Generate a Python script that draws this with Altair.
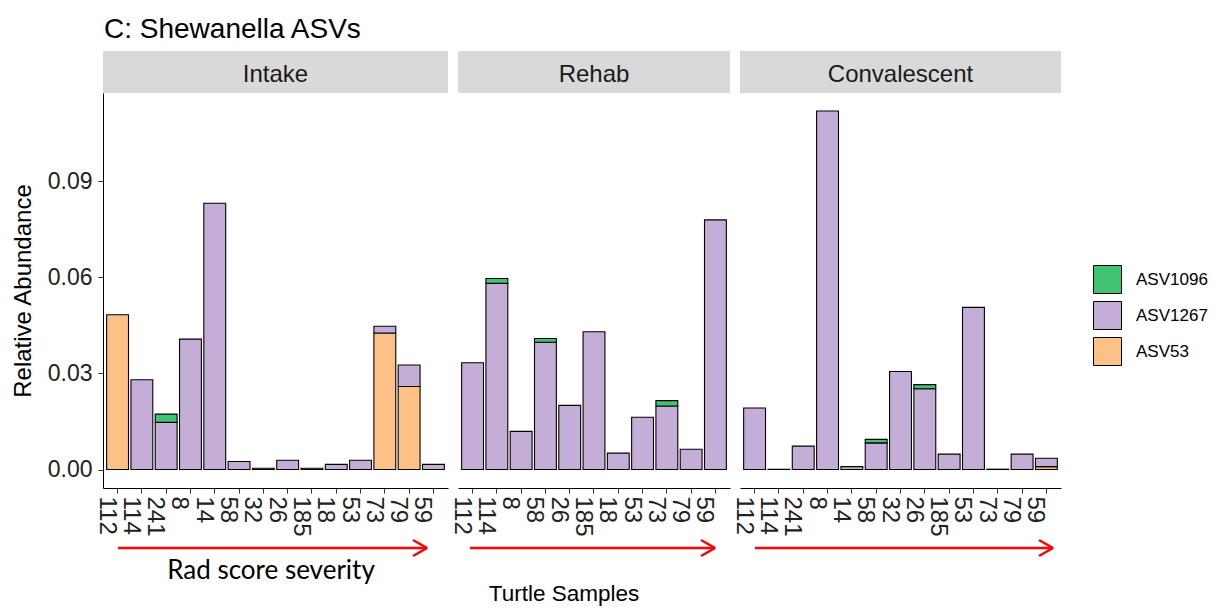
import altair as alt
import pandas as pd

# ---------------- data ----------------
asv_names = ["ASV1096", "ASV1267", "ASV53"]
asv_colors = ["#40C472", "#C4ADD6", "#FDC086"]

intake_samples = ["112", "114", "241", "8", "14", "58", "32", "26", "185", "18", "53", "73", "79", "59"]
intake_asv1096 = [0, 0, 0.0026, 0, 0, 0, 0, 0, 0, 0, 0, 0, 0, 0]
intake_asv1267 = [0, 0.0280, 0.0147, 0.0407, 0.0831, 0.0025, 0.0004, 0.0029, 0.0004, 0.0016, 0.0029, 0.0021, 0.0067, 0.0016]
intake_asv53 = [0.0483, 0, 0, 0, 0, 0, 0, 0, 0, 0, 0, 0.0426, 0.0259, 0]

rehab_samples = ["112", "114", "8", "58", "26", "185", "18", "53", "73", "79", "59"]
rehab_asv1096 = [0, 0.0015, 0, 0.0012, 0, 0, 0, 0, 0.0017, 0, 0]
rehab_asv1267 = [0.0333, 0.0581, 0.0119, 0.0397, 0.0200, 0.0430, 0.0051, 0.0163, 0.0198, 0.0063, 0.0779]
rehab_asv53 = [0, 0, 0, 0, 0, 0, 0, 0, 0, 0, 0]

conv_samples = ["112", "114", "241", "8", "14", "58", "32", "26", "185", "53", "73", "79", "59"]
conv_asv1096 = [0, 0, 0, 0, 0, 0.0011, 0, 0.0013, 0, 0, 0, 0, 0]
conv_asv1267 = [0.0192, 0.0001, 0.0073, 0.1119, 0.0009, 0.0083, 0.0306, 0.0252, 0.0048, 0.0506, 0.0001, 0.0048, 0.0026]
conv_asv53 = [0, 0, 0, 0, 0, 0, 0, 0, 0, 0, 0, 0, 0.0009]

y_ticks = [0, 0.03, 0.06, 0.09]
y_domain = [-0.00577, 0.1175]

FONT = "Liberation Sans"
PLOT_H = 395
ONE = pd.DataFrame({"k": [0]})


def long_table(samples, a1096, a1267, a53):
    rows = []
    for i, s in enumerate(samples):
        for asv, vals, rank in (("ASV53", a53, 0), ("ASV1267", a1267, 1), ("ASV1096", a1096, 2)):
            if vals[i] > 0:
                rows.append({"sample": s, "asv": asv, "value": vals[i], "rank": rank})
    return pd.DataFrame(rows)


def arrow(x0, x1, y):
    shaft = alt.Chart(ONE).mark_rule(color="#FF0000", strokeWidth=2.5).encode(
        x=alt.value(x0), x2=alt.value(x1), y=alt.value(y), y2=alt.value(y))
    arm1 = alt.Chart(ONE).mark_rule(color="#FF0000", strokeWidth=2.5).encode(
        x=alt.value(x1 - 14), x2=alt.value(x1), y=alt.value(y - 8), y2=alt.value(y))
    arm2 = alt.Chart(ONE).mark_rule(color="#FF0000", strokeWidth=2.5).encode(
        x=alt.value(x1 - 14), x2=alt.value(x1), y=alt.value(y + 8), y2=alt.value(y))
    return [shaft, arm1, arm2]


def panel(samples, a1096, a1267, a53, width, label, show_y, extra):
    df = long_table(samples, a1096, a1267, a53)
    if show_y:
        yaxis = alt.Axis(values=y_ticks, format=".2f", title="Relative Abundance", grid=False,
                         domainColor="black", domainWidth=1, tickColor="#333333", tickSize=5,
                         labelFontSize=23, labelPadding=6, labelColor="#222222",
                         titleFontSize=24, titleFontWeight="normal", titlePadding=12,
                         titleColor="black")
    else:
        yaxis = None
    bars = alt.Chart(df).mark_bar(stroke="black", strokeWidth=1.1).encode(
        x=alt.X("sample:N", sort=samples,
                scale=alt.Scale(paddingInner=0.1, paddingOuter=0.15),
                axis=alt.Axis(title=None, labelAngle=90, labelFontSize=24, labelOffset=-11,
                              labelPadding=3, labelOverlap=False, labelColor="#222222",
                              domainColor="black", domainWidth=1, tickColor="#333333",
                              tickSize=5, grid=False)),
        y=alt.Y("value:Q", stack="zero",
                scale=alt.Scale(domain=y_domain, nice=False, zero=False),
                axis=yaxis),
        color=alt.Color("asv:N", title=None,
                        scale=alt.Scale(domain=asv_names, range=asv_colors)),
        order=alt.Order("rank:Q", sort="ascending"),
    )
    header = alt.Chart(ONE).mark_rect(fill="#D9D9D9").encode(
        x=alt.value(0), x2=alt.value(width), y=alt.value(-42), y2=alt.value(0))
    header_text = alt.Chart(ONE).mark_text(
        text=label, fontSize=24, color="#1A1A1A", align="center", baseline="alphabetic"
    ).encode(x=alt.value(width / 2), y=alt.value(-11))
    return alt.layer(bars, header, header_text, *extra).properties(width=width, height=PLOT_H)


W_IN, W_RE, W_CO = 345, 272, 321
ARROW_Y = 455

intake_extra = arrow(15, 324, ARROW_Y) + [
    alt.Chart(ONE).mark_text(text="Rad score severity", font="Lato", fontSize=26, color="black",
                             align="center", baseline="alphabetic").encode(
        x=alt.value(168), y=alt.value(486)),
    alt.Chart(ONE).mark_text(text="C: Shewanella ASVs", fontSize=28, color="black",
                             align="left", baseline="alphabetic").encode(
        x=alt.value(1), y=alt.value(-55)),
]
rehab_extra = arrow(12, 257, ARROW_Y) + [
    alt.Chart(ONE).mark_text(text="Turtle Samples", fontSize=22.5, color="black",
                             align="center", baseline="alphabetic").encode(
        x=alt.value(106), y=alt.value(508)),
]
conv_extra = arrow(15, 313, ARROW_Y)

intake = panel(intake_samples, intake_asv1096, intake_asv1267, intake_asv53, W_IN, "Intake", True, intake_extra)
rehab = panel(rehab_samples, rehab_asv1096, rehab_asv1267, rehab_asv53, W_RE, "Rehab", False, rehab_extra)
conv = panel(conv_samples, conv_asv1096, conv_asv1267, conv_asv53, W_CO, "Convalescent", False, conv_extra)

chart = alt.hconcat(intake, rehab, conv, spacing=10, bounds="flush").resolve_scale(
    color="shared"
).properties(
    padding={"left": 3, "top": 8, "right": 0, "bottom": 0}
).configure(
    font=FONT
).configure_view(
    strokeWidth=0
).configure_legend(
    orient="none", legendX=990, legendY=172,
    symbolType="square", symbolSize=784, symbolStrokeColor="black", symbolStrokeWidth=1,
    labelFontSize=17, labelOffset=14, rowPadding=3, labelColor="black", labelLimit=200,
)

chart.save("out.html", embed_options={"renderer": "svg", "actions": False})
